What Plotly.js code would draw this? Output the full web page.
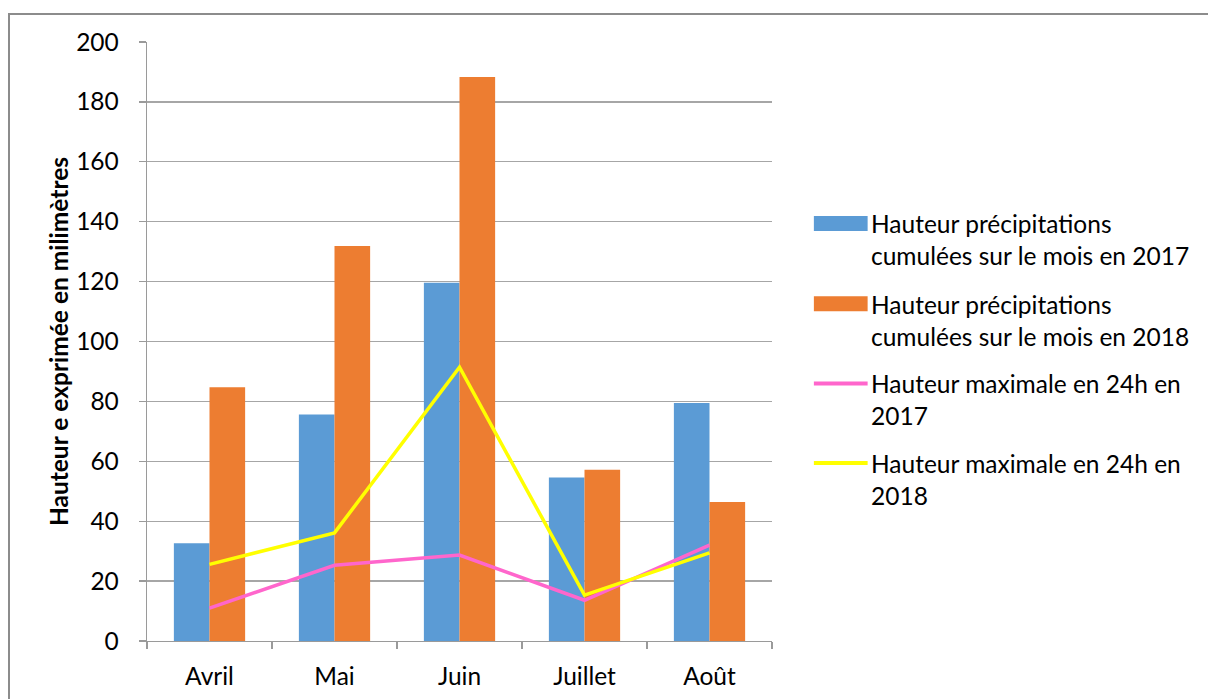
<!DOCTYPE html>
<html>
<head>
<meta charset="utf-8">
<script src="https://cdn.plot.ly/plotly-3.0.1.min.js"></script>
<style>
  html, body { margin: 0; padding: 0; background: #fff; }
  #chart { position: absolute; left: 0; top: 0; width: 1208px; height: 699px; }
  #frame { position: absolute; left: 8px; top: 13px; width: 1300px; height: 800px;
           border-top: 2px solid #8c8c8c; border-left: 2px solid #8c8c8c; pointer-events: none; }
</style>
</head>
<body>
<div id="chart"></div>
<div id="frame"></div>
<script>
// Mois de la saison
const mois = ['Avril', 'Mai', 'Juin', 'Juillet', 'Août'];

// Cumul mensuel des précipitations (mm)
const cumul2017 = [32.6, 75.6, 119.6, 54.6, 79.5];
const cumul2018 = [84.7, 131.9, 188.3, 57.2, 46.4];

// Hauteur maximale relevée en 24 h (mm)
const max24h2017 = [11.0, 25.3, 28.7, 13.6, 32.0];
const max24h2018 = [25.6, 36.1, 91.4, 15.3, 29.4];

// Libellés de légende (sur deux lignes)
const noms = [
  'Hauteur précipitations<br>cumulées sur le mois en 2017',
  'Hauteur précipitations<br>cumulées sur le mois en 2018',
  'Hauteur maximale en 24h en<br>2017',
  'Hauteur maximale en 24h en<br>2018'
];

const couleurs = ['#5B9BD5', '#ED7D31', '#FF66CC', '#FFFF00'];
const police = 'Lato, "Open Sans", sans-serif';
const taille = 24.5;

const traces = [
  { type: 'bar', x: mois, y: cumul2017, name: noms[0], marker: { color: couleurs[0] } },
  { type: 'bar', x: mois, y: cumul2018, name: noms[1], marker: { color: couleurs[1] } },
  { type: 'scatter', mode: 'lines', x: mois, y: max24h2017, name: noms[2],
    line: { color: couleurs[2], width: 3.5 } },
  { type: 'scatter', mode: 'lines', x: mois, y: max24h2018, name: noms[3],
    line: { color: couleurs[3], width: 3.5 } }
];

// Légende dessinée à droite du graphe : pastilles + textes
const legX0 = 1.067, legX1 = 1.153, legTxtX = 1.155;
const legY = [0.697, 0.563, 0.430, 0.297];   // centre de la première ligne de chaque entrée
const shapes = [];
const annotations = [];
noms.forEach((nom, i) => {
  if (i < 2) {
    shapes.push({ type: 'rect', xref: 'paper', yref: 'paper',
      x0: legX0, x1: legX1, y0: legY[i] - 0.0125, y1: legY[i] + 0.0125,
      fillcolor: couleurs[i], line: { width: 0 } });
  } else {
    shapes.push({ type: 'line', xref: 'paper', yref: 'paper',
      x0: legX0, x1: legX1, y0: legY[i], y1: legY[i],
      line: { color: couleurs[i], width: 4 } });
  }
  annotations.push({ xref: 'paper', yref: 'paper', x: legTxtX, y: legY[i] + 0.027,
    xanchor: 'left', yanchor: 'top', align: 'left', showarrow: false,
    text: nom, font: { family: police, size: taille, color: '#000000' } });
});

const layout = {
  width: 1208, height: 699,
  margin: { l: 147, r: 436, t: 42, b: 58 },
  paper_bgcolor: '#ffffff', plot_bgcolor: '#ffffff',
  font: { family: police, size: taille, color: '#000000' },
  barmode: 'group', bargap: 0.43, bargroupgap: 0,
  showlegend: false,
  shapes: shapes,
  annotations: annotations,
  xaxis: {
    type: 'category', tickson: 'boundaries', ticks: 'outside', ticklen: 7,
    tickcolor: '#9a9a9a', tickwidth: 1.3,
    showline: true, linecolor: '#9a9a9a', linewidth: 1.3,
    showgrid: false, ticklabelstandoff: 13,
    tickfont: { family: police, size: taille }
  },
  yaxis: {
    range: [0, 200], dtick: 20, tick0: 0, ticks: 'outside', ticklen: 7,
    tickcolor: '#9a9a9a', tickwidth: 1.3,
    showline: true, linecolor: '#9a9a9a', linewidth: 1.3,
    showgrid: true, gridcolor: '#a6a6a6', gridwidth: 1.3, zeroline: false,
    ticklabelstandoff: 15,
    tickfont: { family: police, size: taille },
    title: { text: '<b>Hauteur e exprimée en milimètres</b>', standoff: 0,
             font: { family: police, size: 24.5, color: '#000000' } }
  }
};

Plotly.newPlot('chart', traces, layout, { staticPlot: true, displayModeBar: false });
</script>
</body>
</html>
